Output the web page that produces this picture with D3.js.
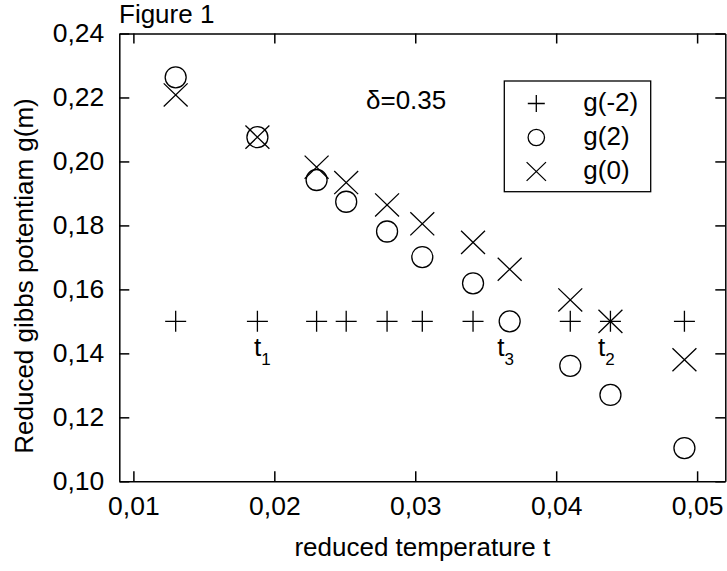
<!DOCTYPE html>
<html lang="en">
<head>
<meta charset="UTF-8">
<title>Figure 1</title>
<script src="https://d3js.org/d3.v7.min.js"></script>
<style>
    body {
        margin: 0;
        background: #fff;
    }

    svg {
        font-family: "Liberation Sans", Arial, sans-serif;
    }

    .axis path, .axis line {
        stroke: #000;
        stroke-width: 1.5px;
    }

    .axis text {
        font-size: 26.5px;
        fill: #000;
    }

    .mark {
        fill: none;
        stroke: #000;
        stroke-width: 1.3px;
    }

    .label {
        font-size: 26px;
        fill: #000;
    }
</style>
</head>
<body>
<svg id="chart" width="727" height="571"></svg>

<script>
    // data
    const tValues = [0.0130, 0.0188, 0.0230, 0.0251, 0.0280, 0.0305, 0.0341, 0.0367, 0.0410, 0.04385, 0.0491];
    const gMinus2 = [0.150, 0.150, 0.150, 0.150, 0.150, 0.150, 0.150, null, 0.150, 0.150, 0.150];
    const gPlus2 = [0.2263, 0.2076, 0.1942, 0.1874, 0.1781, 0.1701, 0.1619, 0.1500, 0.1361, 0.1270, 0.1104];
    const gZero = [0.2208, 0.2076, 0.1982, 0.1934, 0.1864, 0.1805, 0.1747, 0.1663, 0.1567, 0.1500, 0.1380];

    const seriesNames = ["g(-2)", "g(2)", "g(0)"];
    const seriesMarkers = ["plus", "circle", "cross"];

    const xTicks = [0.01, 0.02, 0.03, 0.04, 0.05];
    const yTicks = [0.10, 0.12, 0.14, 0.16, 0.18, 0.20, 0.22, 0.24];

    const tLabels = ["1", "3", "2"];
    const tLabelAt = [0.0188, 0.0367, 0.04385];

    const svg = d3.select("#chart");

    // plot frame
    const frame = { left: 119.3, right: 725.3, top: 33.5, bottom: 481.3 };

    const x = d3.scaleLinear().domain([0.009, 0.052]).range([frame.left, frame.right]);
    const y = d3.scaleLinear().domain([0.10, 0.24]).range([frame.bottom, frame.top]);

    const comma = d => d3.format(".2f")(d).replace(".", ",");

    // axes, ticks pointing inwards on all four sides
    svg.append("g")
       .attr("class", "axis")
       .attr("transform", `translate(0,${frame.bottom})`)
       .call(d3.axisBottom(x).tickValues(xTicks).tickSizeInner(-10).tickSizeOuter(0)
               .tickPadding(15).tickFormat(comma));

    svg.append("g")
       .attr("class", "axis")
       .attr("transform", `translate(0,${frame.top})`)
       .call(d3.axisTop(x).tickValues(xTicks).tickSizeInner(-10).tickSizeOuter(0).tickFormat(""));

    svg.append("g")
       .attr("class", "axis")
       .attr("transform", `translate(${frame.left},0)`)
       .call(d3.axisLeft(y).tickValues(yTicks).tickSizeInner(-10).tickSizeOuter(0)
               .tickPadding(15).tickFormat(comma));

    svg.append("g")
       .attr("class", "axis")
       .attr("transform", `translate(${frame.right},0)`)
       .call(d3.axisRight(y).tickValues(yTicks).tickSizeInner(-10).tickSizeOuter(0).tickFormat(""));

    svg.selectAll(".axis text").attr("font-family", "Liberation Sans, Arial, sans-serif");

    // marker shapes, stroked
    function markerPath(type, s) {
        if (type === "plus") return `M${-s},0H${s}M0,${-s}V${s}`;
        if (type === "cross") {
            const a = s * 1.14, b = s * 1.1;
            return `M${-a},${-b}L${a},${b}M${-a},${b}L${a},${-b}`;
        }
        return null;
    }

    function drawMarks(values, type) {
        const pts = tValues.map((t, i) => ({ t: t, g: values[i] })).filter(d => d.g !== null);
        const g = svg.append("g");
        if (type === "circle") {
            g.selectAll("circle")
             .data(pts)
             .enter().append("circle")
             .attr("class", "mark")
             .attr("cx", d => x(d.t))
             .attr("cy", d => y(d.g))
             .attr("r", 10.5);
        } else {
            g.selectAll("path")
             .data(pts)
             .enter().append("path")
             .attr("class", "mark")
             .attr("transform", d => `translate(${x(d.t)},${y(d.g)})`)
             .attr("d", markerPath(type, 10.5));
        }
    }

    drawMarks(gMinus2, "plus");
    drawMarks(gPlus2, "circle");
    drawMarks(gZero, "cross");

    // t1, t3, t2 labels under the g(-2) row
    const tl = svg.selectAll(".tlab")
                  .data(tLabels)
                  .enter().append("text")
                  .attr("class", "label tlab")
                  .attr("x", (d, i) => x(tLabelAt[i]) + (i === 0 ? 5 : -4))
                  .attr("y", y(0.150) + 35)
                  .attr("text-anchor", "middle");
    tl.append("tspan").text("t");
    tl.append("tspan")
      .attr("font-size", "17px")
      .attr("dy", 9)
      .text(d => d);

    // delta annotation
    svg.append("text")
       .attr("class", "label")
       .attr("x", 366)
       .attr("y", 109)
       .attr("font-size", "25px")
       .text("δ=0.35");

    // figure title
    svg.append("text")
       .attr("class", "label")
       .attr("x", 119)
       .attr("y", 23)
       .attr("font-size", "26px")
       .text("Figure 1");

    // axis titles
    svg.append("text")
       .attr("class", "label")
       .attr("x", (frame.left + frame.right) / 2)
       .attr("y", 556)
       .attr("text-anchor", "middle")
       .attr("font-size", "28.5px")
       .text("reduced temperature t");

    svg.append("text")
       .attr("class", "label")
       .attr("transform", "translate(33,276) rotate(-90)")
       .attr("text-anchor", "middle")
       .attr("font-size", "28px")
       .text("Reduced gibbs potentiam g(m)");

    // legend
    const legend = svg.append("g").attr("transform", "translate(504.3,81)");
    legend.append("rect")
          .attr("width", 146.4)
          .attr("height", 110.7)
          .attr("fill", "#fff")
          .attr("stroke", "#000")
          .attr("stroke-width", 1.3);

    seriesNames.forEach((name, i) => {
        const row = legend.append("g").attr("transform", `translate(32,${22.5 + 34 * i})`);
        if (seriesMarkers[i] === "circle") {
            row.append("circle").attr("class", "mark").attr("r", 8.2);
        } else {
            row.append("path").attr("class", "mark").attr("d", markerPath(seriesMarkers[i], 8.5));
        }
        row.append("text")
           .attr("class", "label")
           .attr("x", 47)
           .attr("dy", "0.3em")
           .attr("font-size", "27.5px")
           .text(name);
    });
</script>
</body>
</html>
